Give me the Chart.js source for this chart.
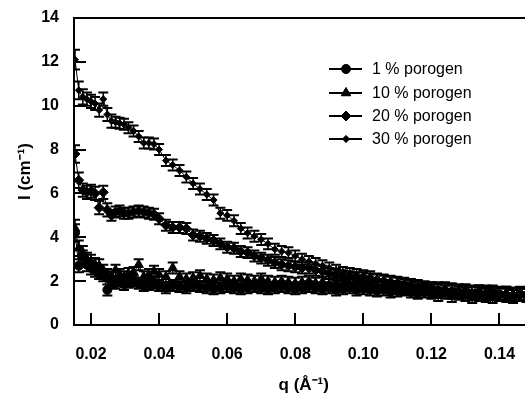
<!DOCTYPE html>
<html><head><meta charset="utf-8">
<script src="https://cdn.jsdelivr.net/npm/chart.js@4.4.1/dist/chart.umd.min.js"></script>
<style>
html,body{margin:0;padding:0;overflow:hidden;background:#fff;width:525px;height:400px}
#wrap{position:absolute;left:0;top:0;width:540px;height:400px}
</style>
</head><body><div id="wrap"><canvas id="c" width="540" height="400"></canvas></div>
<script>
// q values (Å^-1), shared by all samples
const q = [0.0153,0.0164,0.0176,0.0188,0.0200,0.0212,0.0224,0.0236,0.0248,0.0260,0.0272,0.0284,0.0297,0.0310,0.0325,0.0340,0.0355,0.0370,0.0385,0.0400,
 0.042,0.044,0.046,0.048,0.050,0.052,0.054,0.056,0.058,0.060,
 0.062,0.064,0.066,0.068,0.070,0.072,0.074,0.076,0.078,0.080,
 0.082,0.084,0.086,0.088,0.090,0.092,0.094,0.096,0.098,0.100,
 0.102,0.104,0.106,0.108,0.110,0.112,0.114,0.116,0.118,0.120,
 0.122,0.124,0.126,0.128,0.130,0.132,0.134,0.136,0.138,0.140,
 0.142,0.144,0.146,0.148];

// I (cm^-1)
const p1 = [4.2,2.7,3.1,2.75,2.6,2.5,2.35,2.25,1.6,1.95,1.9,2.0,1.85,1.95,2.0,1.9,1.8,1.85,1.9,1.8,
 1.7,1.8,1.75,1.7,1.8,1.75,1.7,1.65,1.7,1.75,
 1.7,1.65,1.7,1.75,1.7,1.65,1.7,1.75,1.7,1.65,
 1.7,1.75,1.7,1.65,1.7,1.6,1.65,1.7,1.6,1.65,
 1.6,1.55,1.6,1.5,1.55,1.6,1.5,1.45,1.5,1.45,
 1.4,1.5,1.35,1.45,1.4,1.3,1.4,1.35,1.3,1.4,
 1.35,1.3,1.4,1.35];
const p10 = [4.4,3.5,3.3,3.0,2.9,2.75,2.7,2.5,2.3,2.2,2.5,2.3,2.2,2.35,2.4,2.75,2.2,2.3,2.45,2.3,
 2.2,2.6,2.2,2.1,2.15,2.25,2.1,2.05,2.15,2.1,
 2.0,2.1,2.05,2.0,2.1,2.0,1.95,2.0,1.95,1.9,
 1.95,2.0,1.9,1.95,1.85,1.9,1.8,1.85,1.9,1.8,
 1.85,1.75,1.8,1.7,1.75,1.65,1.7,1.6,1.65,1.6,
 1.55,1.6,1.5,1.55,1.5,1.45,1.5,1.45,1.5,1.4,
 1.45,1.4,1.45,1.4];
const p20 = [7.8,6.6,6.15,6.05,6.1,6.0,5.35,6.05,5.25,5.0,5.15,5.2,5.1,5.1,5.15,5.2,5.15,5.1,5.05,4.85,
 4.55,4.45,4.45,4.4,4.1,4.05,3.95,3.85,3.7,3.55,
 3.5,3.35,3.3,3.15,3.05,2.95,2.85,2.75,2.7,2.65,
 2.6,2.6,2.5,2.45,2.35,2.3,2.25,2.2,2.15,2.15,
 2.1,2.05,2.0,1.95,1.9,1.85,1.8,1.75,1.7,1.7,
 1.6,1.6,1.55,1.5,1.55,1.45,1.5,1.4,1.45,1.4,
 1.4,1.35,1.4,1.35];
const p30 = [12.1,10.7,10.4,10.3,10.2,10.1,9.8,10.3,9.6,9.3,9.25,9.2,9.15,9.0,8.85,8.6,8.3,8.3,8.25,8.0,
 7.5,7.3,7.05,6.75,6.45,6.2,5.95,5.7,5.1,5.0,
 4.75,4.4,4.2,4.05,3.9,3.7,3.45,3.35,3.3,3.15,
 3.0,2.9,2.8,2.7,2.6,2.5,2.4,2.35,2.3,2.25,
 2.2,2.1,2.05,2.0,1.95,1.9,1.85,1.8,1.75,1.7,
 1.65,1.65,1.6,1.55,1.55,1.5,1.5,1.5,1.45,1.45,
 1.45,1.4,1.4,1.4];

// error bars (± cm^-1)
const e1 = [0.4,0.3,0.3,0.3,0.3,0.3,0.25,0.25,0.25,0.25,0.25,0.25,0.25,0.25,0.25,0.25,0.25,0.25,0.25,0.25,
 0.25,0.25,0.25,0.25,0.25,0.25,0.25,0.25,0.25,0.25,
 0.25,0.25,0.25,0.25,0.25,0.25,0.25,0.25,0.25,0.25,
 0.25,0.25,0.25,0.25,0.25,0.25,0.25,0.25,0.25,0.25,
 0.25,0.25,0.25,0.25,0.25,0.25,0.25,0.25,0.25,0.25,
 0.3,0.3,0.3,0.3,0.3,0.3,0.3,0.3,0.3,0.3,
 0.3,0.3,0.3,0.3];
const e10 = [0.4,0.35,0.3,0.3,0.3,0.3,0.3,0.25,0.25,0.25,0.25,0.25,0.25,0.25,0.25,0.25,0.25,0.25,0.25,0.25,
 0.25,0.25,0.25,0.25,0.25,0.25,0.25,0.25,0.25,0.25,
 0.25,0.25,0.25,0.25,0.25,0.25,0.25,0.25,0.25,0.25,
 0.25,0.25,0.25,0.25,0.25,0.25,0.25,0.25,0.25,0.25,
 0.25,0.25,0.25,0.25,0.25,0.25,0.25,0.25,0.25,0.25,
 0.3,0.3,0.3,0.3,0.3,0.3,0.3,0.3,0.3,0.3,
 0.3,0.3,0.3,0.3];
const e20 = [0.4,0.35,0.3,0.3,0.3,0.3,0.3,0.3,0.3,0.25,0.25,0.25,0.25,0.25,0.25,0.25,0.25,0.25,0.25,0.25,
 0.25,0.25,0.25,0.25,0.25,0.25,0.25,0.25,0.25,0.25,
 0.25,0.25,0.25,0.25,0.25,0.25,0.25,0.25,0.25,0.25,
 0.25,0.25,0.25,0.25,0.25,0.25,0.25,0.25,0.25,0.25,
 0.25,0.25,0.25,0.25,0.25,0.25,0.25,0.25,0.25,0.25,
 0.3,0.3,0.3,0.3,0.3,0.3,0.3,0.3,0.3,0.3,
 0.3,0.3,0.3,0.3];
const e30 = [0.45,0.4,0.35,0.3,0.3,0.3,0.3,0.3,0.3,0.3,0.25,0.25,0.25,0.25,0.25,0.25,0.25,0.25,0.25,0.25,
 0.25,0.25,0.25,0.25,0.25,0.25,0.25,0.25,0.25,0.25,
 0.25,0.25,0.25,0.25,0.25,0.25,0.25,0.25,0.25,0.25,
 0.25,0.25,0.25,0.25,0.25,0.25,0.25,0.25,0.25,0.25,
 0.25,0.25,0.25,0.25,0.25,0.25,0.25,0.25,0.25,0.25,
 0.3,0.3,0.3,0.3,0.3,0.3,0.3,0.3,0.3,0.3,
 0.3,0.3,0.3,0.3];

const seriesLabels = ['1 % porogen','10 % porogen','20 % porogen','30 % porogen'];
const xTickValues = [0.02,0.04,0.06,0.08,0.10,0.12,0.14];
const yTickValues = [0,2,4,6,8,10,12,14];
const xTitle = 'q (Å⁻¹)';
const yTitle = 'I (cm⁻¹)';

const FONT = "'Liberation Sans', Arial, Helvetica, sans-serif";
const values = [p1, p10, p20, p30];
const errors = [e1, e10, e20, e30];
const styles = [
  {pointStyle:'circle', radius:4.5},
  {pointStyle:'triangle', radius:5.5},
  {pointStyle:'rectRot', radius:5},
  {pointStyle:'rectRot', radius:3.5}
];

const datasets = values.map((vals, k) => ({
  label: seriesLabels[k],
  data: q.map((x, i) => ({x: x, y: vals[i]})),
  errs: errors[k],
  showLine: true,
  borderColor: '#000',
  borderWidth: 1,
  backgroundColor: '#000',
  pointStyle: styles[k].pointStyle,
  pointRadius: styles[k].radius,
  pointBackgroundColor: '#000',
  pointBorderColor: '#000',
  pointBorderWidth: 1,
  tension: 0
}));

const errorBars = {
  id: 'errorBars',
  beforeDatasetsDraw(chart) {
    const {ctx, chartArea: a, scales: {x: xs, y: ys}} = chart;
    ctx.save();
    ctx.beginPath(); ctx.rect(a.left, a.top, a.right - a.left, a.bottom - a.top); ctx.clip();
    ctx.strokeStyle = '#000';
    chart.data.datasets.forEach(ds => {
      ds.data.forEach((p, i) => {
        const e = ds.errs[i];
        const px = xs.getPixelForValue(p.x);
        const y1 = ys.getPixelForValue(p.y + e);
        const y2 = ys.getPixelForValue(p.y - e);
        ctx.lineWidth = 1.5;
        ctx.beginPath(); ctx.moveTo(px, y1); ctx.lineTo(px, y2); ctx.stroke();
        ctx.lineWidth = 2;
        ctx.beginPath();
        ctx.moveTo(px - 5, y1); ctx.lineTo(px + 5, y1);
        ctx.moveTo(px - 5, y2); ctx.lineTo(px + 5, y2);
        ctx.stroke();
      });
    });
    ctx.restore();
  }
};

const frameAndTicks = {
  id: 'frameAndTicks',
  afterDraw(chart) {
    const {ctx, chartArea: a, scales: {x: xs, y: ys}} = chart;
    ctx.save();
    ctx.strokeStyle = '#000';
    ctx.lineWidth = 2;
    ctx.beginPath();
    ctx.moveTo(a.left - 1, a.top); ctx.lineTo(a.right, a.top); ctx.lineTo(a.right, a.bottom);
    ctx.stroke();
    const L = 12;
    ctx.beginPath();
    xs.ticks.forEach(t => {
      const px = Math.round(xs.getPixelForValue(t.value));
      ctx.moveTo(px, a.bottom); ctx.lineTo(px, a.bottom - L);
    });
    ys.ticks.forEach(t => {
      const py = Math.round(ys.getPixelForValue(t.value));
      if (t.value === 0 || t.value === 14) return;
      ctx.moveTo(a.left, py); ctx.lineTo(a.left + L, py);
    });
    ctx.stroke();
    ctx.restore();
  }
};

const legendBox = {
  id: 'legendBox',
  afterDraw(chart) {
    const ctx = chart.ctx;
    const x0 = 329, x1 = 362, xm = 346, xt = 372;
    const rows = [69, 93, 116, 139];
    ctx.save();
    ctx.strokeStyle = '#000'; ctx.fillStyle = '#000';
    chart.data.datasets.forEach((ds, k) => {
      const y = rows[k];
      ctx.lineWidth = 2;
      ctx.beginPath(); ctx.moveTo(x0, y); ctx.lineTo(x1, y); ctx.stroke();
      ctx.lineWidth = 1;
      Chart.helpers.drawPoint(ctx, {pointStyle: ds.pointStyle, radius: ds.pointRadius, rotation: 0, borderWidth: 1}, xm, y);
      ctx.fill();
      ctx.font = '16px ' + FONT;
      ctx.textBaseline = 'middle';
      ctx.textAlign = 'left';
      ctx.fillText(ds.label, xt, y + 1);
    });
    ctx.restore();
  }
};

new Chart(document.getElementById('c'), {
  type: 'scatter',
  data: {datasets},
  options: {
    responsive: false,
    animation: false,
    devicePixelRatio: 1,
    layout: {padding: {top: 18, right: 3, left: 0, bottom: 0}},
    plugins: {legend: {display: false}, tooltip: {enabled: false}},
    scales: {
      x: {
        type: 'linear', min: 0.015, max: 0.15,
        grid: {display: false},
        border: {display: true, color: '#000', width: 2},
        afterBuildTicks: s => { s.ticks = xTickValues.map(v => ({value: v})); },
        afterFit: s => { s.height = 75; },
        ticks: {
          color: '#000', padding: 12, maxRotation: 0, autoSkip: false,
          font: {family: FONT, size: 16, weight: 'bold'},
          callback: v => Number(v).toFixed(2)
        },
        title: {display: true, text: xTitle, color: '#000', font: {family: FONT, size: 17, weight: 'bold'}, padding: {top: 0, bottom: 4}}
      },
      y: {
        type: 'linear', min: 0, max: 14,
        grid: {display: false},
        border: {display: true, color: '#000', width: 2},
        afterBuildTicks: s => { s.ticks = yTickValues.map(v => ({value: v})); },
        afterFit: s => { s.width = 74; },
        ticks: {
          color: '#000', padding: 7, autoSkip: false,
          font: {family: FONT, size: 16, weight: 'bold'},
          callback: v => String(v)
        },
        title: {display: true, text: yTitle, color: '#000', font: {family: FONT, size: 17, weight: 'bold'}, padding: {top: 15, bottom: 0}}
      }
    }
  },
  plugins: [errorBars, frameAndTicks, legendBox]
});
</script>
</body></html>
